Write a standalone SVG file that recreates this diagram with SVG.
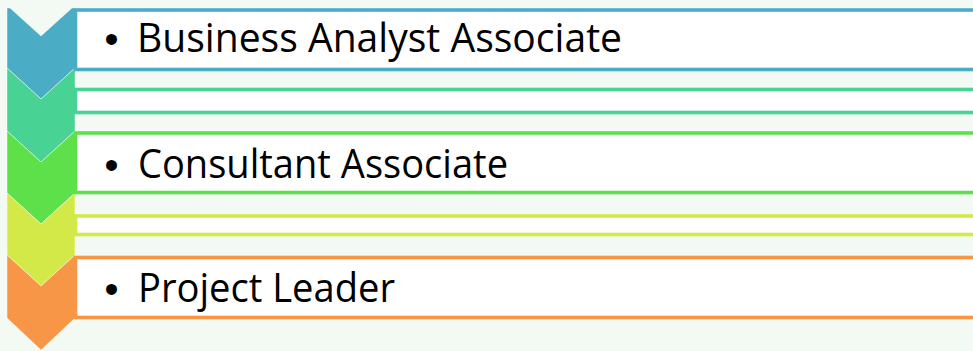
<svg xmlns="http://www.w3.org/2000/svg" width="973" height="351" viewBox="0 0 973 351">
  <style>
    .chev { stroke: #ffffff; stroke-opacity: 0.45; stroke-width: 1; }
    .box { fill: #ffffff; stroke-width: 3.6; }
    .lbl { font-family: "Open Sans", "Noto Sans", "Liberation Sans", sans-serif; font-size: 40px; fill: #000000; }
    .bul { font-family: "Liberation Sans", Arial, sans-serif; font-size: 40px; fill: #000000; }
  </style>
  <rect x="0" y="0" width="973" height="351" fill="#F3F9F3"/>
  <g id="chevrons">
    <polygon id="chev-1" class="chev" fill="#4BACC6" points="7,8 10,8 41,36 72,8 75,8 75,68 41,99 7,68"/>
    <polygon id="chev-2" class="chev" fill="#48D294" points="7,68 41,99 75,68 75,131 41,162 7,131"/>
    <polygon id="chev-3" class="chev" fill="#5EE04A" points="7,131 41,162 75,131 75,193 41,224 7,193"/>
    <polygon id="chev-4" class="chev" fill="#D3E947" points="7,193 41,224 75,193 75,255 41,286 7,255"/>
    <polygon id="chev-5" class="chev" fill="#F79646" points="7,255 41,286 75,255 75,318 41,350 7,318"/>
  </g>
  <g id="node-1">
    <rect class="box" x="75.5" y="10" width="910" height="59.5" stroke="#4BACC6"/>
    <text class="bul" x="111.5" y="53" text-anchor="middle">•</text>
    <text class="lbl" x="137" y="52" textLength="485" lengthAdjust="spacingAndGlyphs">Business Analyst Associate</text>
  </g>
  <g id="node-2">
    <rect class="box" x="75.5" y="89.5" width="910" height="23" stroke="#48D294"/>
  </g>
  <g id="node-3">
    <rect class="box" x="75.5" y="133" width="910" height="59.5" stroke="#5EE04A"/>
    <text class="bul" x="111.5" y="179" text-anchor="middle">•</text>
    <text class="lbl" x="138" y="177.5" textLength="370" lengthAdjust="spacingAndGlyphs">Consultant Associate</text>
  </g>
  <g id="node-4">
    <rect class="box" x="75.5" y="216" width="910" height="18.5" stroke="#D3E947"/>
  </g>
  <g id="node-5">
    <rect class="box" x="75.5" y="257.5" width="910" height="60" stroke="#F79646"/>
    <text class="bul" x="111.5" y="303" text-anchor="middle">•</text>
    <text class="lbl" x="138" y="301.5" textLength="257" lengthAdjust="spacingAndGlyphs">Project Leader</text>
  </g>
</svg>
